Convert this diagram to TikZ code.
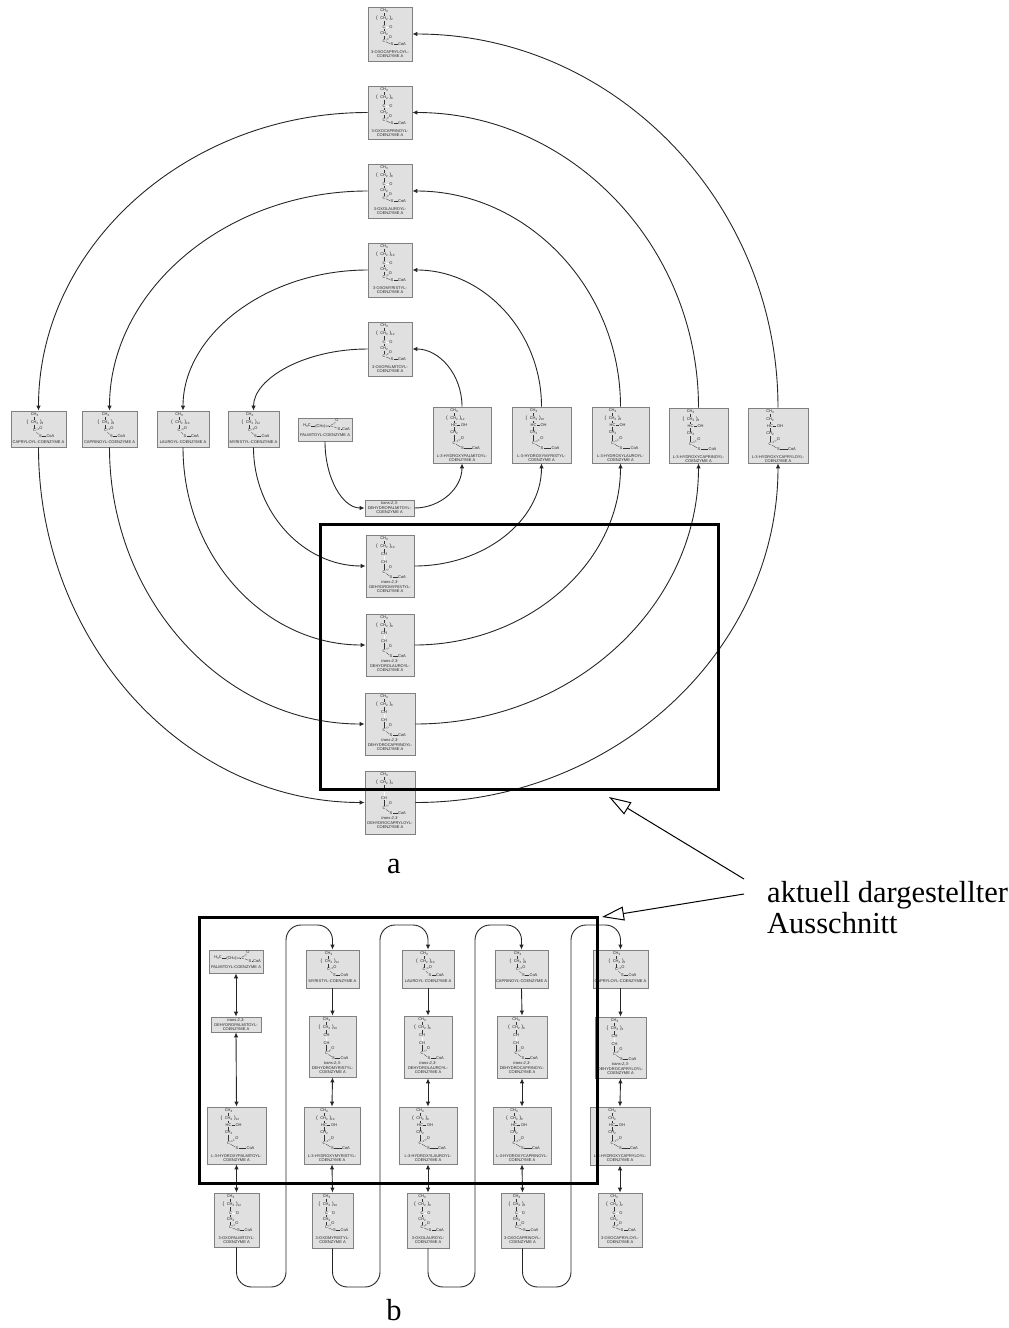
\documentclass[tikz,border=0pt]{standalone}
\usepackage{fontspec}
\setmainfont{Liberation Serif}
\newfontfamily\molfont{Liberation Sans}
\usetikzlibrary{arrows.meta}
\newcommand\sbs[1]{\raisebox{-.4ex}{\fontsize{3}{3}\selectfont #1}}
\tikzset{
  molbox/.style={draw=black!50,line width=.8pt,fill=black!12,inner sep=0pt},
  mt/.style={font=\molfont\fontsize{4}{4}\selectfont,text=black!85,inner sep=.35pt},
  lab/.style={font=\molfont\fontsize{4}{4}\selectfont,text=black!85,inner sep=0pt},
  bond/.style={line width=.3pt,draw=black!80},
  dbl/.style={line width=.2pt,draw=black!80,double,double distance=.5pt},
  link/.style={line width=.9pt,draw=black!85},
  tipto/.style={link,-{Latex[length=5pt,width=4.5pt]}},
  tipboth/.style={link,{Latex[length=5pt,width=4.5pt]}-{Latex[length=5pt,width=4.5pt]}},
  frame/.style={draw=black,line width=3pt,inner sep=0pt,fill=none},
  callout/.style={line width=1pt,draw=black,-{Triangle[open,length=22pt,width=14pt,line width=1pt]}},
  big/.style={font=\fontsize{30.5}{34}\selectfont,inner sep=0pt,text=black},
}
% box: name x1 x2 y1 y2
\newcommand\molnode[5]{%
  \pgfmathsetmacro\mx{(#2+#3)/2}\pgfmathsetmacro\my{(#4+#5)/2}%
  \pgfmathsetmacro\mw{#3-#2}\pgfmathsetmacro\mh{#5-#4}%
  \node[molbox,minimum width=\mw pt,minimum height=\mh pt] (#1) at (\mx,\my) {};}
% bracketed CH2: prefix x y subscript
\newcommand\brk[4]{%
  \node[mt] (#1-b) at (#2,#3) {CH\sbs2};
  \if\relax\detokenize{#4}\relax\else
  \node[mt,font=\molfont\fontsize{5}{5}\selectfont] (#1-p) at (#2-7,#3) {(};
  \node[mt,anchor=west] (#1-q) at (#2+5,#3) {\fontsize{5}{5}\selectfont)\sbs{#4}};
  \fi}
% end group: prefix x yC dxO dyO dxS dyS dxCoA
\newcommand\estr[8]{%
  \node[mt] (#1-c) at (#2,#3) {C};
  \node[mt] (#1-o) at (#2+#4,#3+#5) {O};
  \node[mt] (#1-s) at (#2+#6,#3+#7) {S};
  \node[mt] (#1-r) at (#2+#8,#3+#7) {CoA};
  \draw[dbl] (#1-c) -- (#1-o);
  \draw[bond] (#1-c) -- (#1-s);
  \draw[bond] (#1-s) -- (#1-r);}
% two label lines: prefix cx y1 y2 line1 line2
\newcommand\twolab[6]{%
  \node[lab] (#1-l1) at (#2,#3) {#5};
  \node[lab] (#1-l2) at (#2,#4) {#6};}
% name x1 x2 y1 y2 n text : 3-oxo
\newcommand\oxomol[7]{%
  \molnode{#1}{#2}{#3}{#4}{#5}
  \pgfmathsetmacro\cx{(#2+#3)/2}\pgfmathsetmacro\chn{\cx-6}\pgfmathsetmacro\ytop{#4}
  \node[mt] (#1-a) at (\chn,\ytop+3.5) {CH\sbs3};
  \brk{#1}{\chn}{\ytop+11.5}{#6}
  \node[mt] (#1-k) at (\chn,\ytop+20) {C};
  \node[mt] (#1-m) at (\chn+7,\ytop+20) {O};
  \node[mt] (#1-n) at (\chn,\ytop+26.5) {CH\sbs2};
  \draw[bond] (#1-a) -- (#1-b); \draw[bond] (#1-b) -- (#1-k);
  \draw[dbl] (#1-k) -- (#1-m); \draw[bond] (#1-k) -- (#1-n);
  \estr{#1}{\chn}{\ytop+34}{6.5}{-3.5}{8}{3.5}{18}
  \draw[bond] (#1-n) -- (#1-c);
  \twolab{#1}{\cx}{\ytop+45}{\ytop+49.5}{#7}{COENZYME A}}
% acyl
\newcommand\acylmol[7]{%
  \molnode{#1}{#2}{#3}{#4}{#5}
  \pgfmathsetmacro\cx{(#2+#3)/2}\pgfmathsetmacro\chn{\cx-4}\pgfmathsetmacro\ytop{#4}
  \node[mt] (#1-a) at (\chn,\ytop+3.5) {CH\sbs3};
  \brk{#1}{\chn}{\ytop+11.5}{#6}
  \estr{#1}{\chn}{\ytop+19.5}{6.5}{-2.5}{6}{5.5}{16}
  \draw[bond] (#1-a) -- (#1-b); \draw[bond] (#1-b) -- (#1-c);
  \node[lab] (#1-l1) at (\cx,\ytop+31.5) {#7};}
% trans-dehydro
\newcommand\dhmol[7]{%
  \molnode{#1}{#2}{#3}{#4}{#5}
  \pgfmathsetmacro\cx{(#2+#3)/2}\pgfmathsetmacro\chn{\cx-6}\pgfmathsetmacro\ytop{#4}
  \node[mt] (#1-a) at (\chn,\ytop+3.5) {CH\sbs3};
  \brk{#1}{\chn}{\ytop+11.5}{#6}
  \node[mt] (#1-k) at (\chn,\ytop+19.5) {CH};
  \node[mt] (#1-n) at (\chn,\ytop+27) {CH};
  \draw[bond] (#1-a) -- (#1-b); \draw[bond] (#1-b) -- (#1-k);
  \draw[dbl] (#1-k) -- (#1-n);
  \estr{#1}{\chn}{\ytop+37}{6.5}{-4.5}{7}{5}{18}
  \draw[bond] (#1-n) -- (#1-c);
  \node[lab] (#1-l0) at (\cx,\ytop+47.5) {\itshape trans-2,3-};
  \twolab{#1}{\cx}{\ytop+52}{\ytop+56.5}{#7}{COENZYME A}}
% L-3-hydroxy
\newcommand\hymol[7]{%
  \molnode{#1}{#2}{#3}{#4}{#5}
  \pgfmathsetmacro\cx{(#2+#3)/2}\pgfmathsetmacro\chn{\cx-8}\pgfmathsetmacro\ytop{#4}
  \node[mt] (#1-a) at (\chn,\ytop+3.5) {CH\sbs3};
  \brk{#1}{\chn}{\ytop+11.5}{#6}
  \node[mt] (#1-k) at (\chn,\ytop+18) {HC};
  \node[mt] (#1-m) at (\chn+10,\ytop+18) {OH};
  \node[mt] (#1-n) at (\chn,\ytop+26) {CH\sbs2};
  \draw[bond] (#1-a) -- (#1-b); \draw[bond] (#1-b) -- (#1-k);
  \draw[bond] (#1-k) -- (#1-m); \draw[bond] (#1-k) -- (#1-n);
  \estr{#1}{\chn}{\ytop+36}{8.5}{-5}{8.5}{5}{22}
  \draw[bond] (#1-n) -- (#1-c);
  \twolab{#1}{\cx}{\ytop+49}{\ytop+53.5}{#7}{COENZYME A}}
% palmitoyl
\newcommand\palmol[5]{%
  \molnode{#1}{#2}{#3}{#4}{#5}
  \pgfmathsetmacro\cx{(#2+#3)/2}\pgfmathsetmacro\ytop{#4}
  \node[mt] (#1-a) at (\cx-18,\ytop+8) {H\sbs3C};
  \node[mt] (#1-b) at (\cx-3,\ytop+8) {(CH\sbs2)\sbs{14}};
  \estr{#1}{\cx+7}{\ytop+8}{5}{-5.5}{7}{3}{14}
  \draw[bond] (#1-a) -- (#1-b); \draw[bond] (#1-b) -- (#1-c);
  \node[lab] (#1-l1) at (\cx,\ytop+17.5) {PALMITOYL-COENZYME A};}
% dehydropalmitoyl
\newcommand\dpmol[5]{%
  \molnode{#1}{#2}{#3}{#4}{#5}
  \pgfmathsetmacro\cx{(#2+#3)/2}\pgfmathsetmacro\ytop{#4}
  \node[lab] (#1-l0) at (\cx,\ytop+3.5) {\itshape trans-2,3-};
  \twolab{#1}{\cx}{\ytop+7.8}{\ytop+12}{DEHYDROPALMITOYL-}{COENZYME A}}
\begin{document}
\begin{tikzpicture}[x=1pt,y=-1pt]
\useasboundingbox (0,0) rectangle (1009,1328);
% ---- part a
\oxomol{oxCy}{368}{412}{7}{61}{2}{3-OXOCAPRYLOYL-}
\oxomol{oxCp}{368}{412}{86}{139}{6}{3-OXOCAPRINOYL-}
\oxomol{oxLa}{368}{412}{164}{218}{8}{3-OXOLAUROYL-}
\oxomol{oxMy}{368}{412}{243}{297}{10}{3-OXOMYRISTYL-}
\oxomol{oxPa}{368}{412}{322}{376}{12}{3-OXOPALMITOYL-}
\acylmol{rowCy}{11}{66}{411}{447}{6}{CAPRYLOYL-COENZYME A}
\acylmol{rowCp}{82}{137}{411}{447}{8}{CAPRINOYL-COENZYME A}
\acylmol{rowLa}{157}{209}{411}{447}{10}{LAUROYL-COENZYME A}
\acylmol{rowMy}{228}{279}{411}{447}{12}{MYRISTYL-COENZYME A}
\palmol{rowPa}{298}{352}{418}{441}
\hymol{hyPa}{433}{491}{407}{463}{12}{L-3-HYDROXYPALMITOYL-}
\hymol{hyMy}{512}{571}{407}{463}{10}{L-3-HYDROXYMYRISTYL-}
\hymol{hyLa}{592}{649}{407}{463}{8}{L-3-HYDROXYLAUROYL-}
\hymol{hyCp}{669}{728}{408}{463}{6}{L-3-HYDROXYCAPRINOYL-}
\hymol{hyCy}{748}{808}{408}{463}{}{L-3-HYDROXYCAPRYLOYL-}
\dpmol{dhPa}{365}{414}{500}{516}
\dhmol{dhMy}{366}{414}{535}{597}{10}{DEHYDROMYRISTYL-}
\dhmol{dhLa}{366}{414}{614}{676}{8}{DEHYDROLAUROYL-}
\dhmol{dhCp}{365}{415}{693}{755}{6}{DEHYDROCAPRINOYL-}
\dhmol{dhCy}{365}{415}{771}{834}{4}{DEHYDROCAPRYLOYL-}
% curves
\draw[tipto] (rowPa.south) .. controls +(0,37) and +(-22,0) .. (dhPa.west);
\draw[tipto] (dhPa.east) .. controls +(26,0) and +(0,25) .. (hyPa.south);
\draw[tipto] (hyPa.north) .. controls +(0,-32) and +(27,0) .. (oxPa.east);
\draw[tipto] (oxPa.west) .. controls +(-63,0) and +(0,-32) .. (rowMy.north);
\draw[tipto] (rowMy.south) .. controls +(0,65) and +(-62,0) .. (dhMy.west);
\draw[tipto] (dhMy.east) .. controls +(70,0) and +(0,57) .. (hyMy.south);
\draw[tipto] (hyMy.north) .. controls +(0,-75) and +(71,0) .. (oxMy.east);
\draw[tipto] (oxMy.west) .. controls +(-101,0) and +(0,-76) .. (rowLa.north);
\draw[tipto] (rowLa.south) .. controls +(0,109) and +(-101,0) .. (dhLa.west);
\draw[tipto] (dhLa.east) .. controls +(113,0) and +(0,100) .. (hyLa.south);
\draw[tipto] (hyLa.north) .. controls +(0,-119) and +(114,0) .. (oxLa.east);
\draw[tipto] (oxLa.west) .. controls +(-142,0) and +(0,-120) .. (rowCp.north);
\draw[tipto] (rowCp.south) .. controls +(0,152) and +(-141,0) .. (dhCp.west);
\draw[tipto] (dhCp.east) .. controls +(156,0) and +(0,144) .. (hyCp.south);
\draw[tipto] (hyCp.north) .. controls +(0,-163) and +(157,0) .. (oxCp.east);
\draw[tipto] (oxCp.west) .. controls +(-181,0) and +(0,-164) .. (rowCy.north);
\draw[tipto] (rowCy.south) .. controls +(0,195) and +(-180,0) .. (dhCy.west);
\draw[tipto] (dhCy.east) .. controls +(200,0) and +(0,186) .. (hyCy.south);
\draw[tipto] (hyCy.north) .. controls +(0,-206) and +(201,0) .. (oxCy.east);
% ---- part b
\palmol{bPa}{209}{263}{950}{973}
\acylmol{bMy}{306}{359}{950}{988}{12}{MYRISTYL-COENZYME A}
\acylmol{bLa}{402}{454}{950}{988}{10}{LAUROYL-COENZYME A}
\acylmol{bCp}{495}{548}{950}{988}{8}{CAPRINOYL-COENZYME A}
\acylmol{bCy}{593}{648}{950}{988}{6}{CAPRYLOYL-COENZYME A}
\dpmol{bdPa}{211}{261}{1017}{1032}
\dhmol{bdMy}{309}{356}{1016}{1077}{10}{DEHYDROMYRISTYL-}
\dhmol{bdLa}{404}{452}{1016}{1078}{8}{DEHYDROLAUROYL-}
\dhmol{bdCp}{497}{547}{1016}{1078}{6}{DEHYDROCAPRINOYL-}
\dhmol{bdCy}{595}{646}{1017}{1078}{4}{DEHYDROCAPRYLOYL-}
\hymol{bhPa}{207}{266}{1107}{1164}{12}{L-3-HYDROXYPALMITOYL-}
\hymol{bhMy}{304}{360}{1107}{1164}{10}{L-3-HYDROXYMYRISTYL-}
\hymol{bhLa}{399}{457}{1107}{1164}{8}{L-3-HYDROXYLAUROYL-}
\hymol{bhCp}{493}{551}{1107}{1164}{6}{L-3-HYDROXYCAPRINOYL-}
\hymol{bhCy}{590}{650}{1107}{1165}{}{L-3-HYDROXYCAPRYLOYL-}
\oxomol{boPa}{214}{259}{1193}{1247}{12}{3-OXOPALMITOYL-}
\oxomol{boMy}{312}{353}{1193}{1248}{10}{3-OXOMYRISTYL-}
\oxomol{boLa}{407}{449}{1193}{1248}{8}{3-OXOLAUROYL-}
\oxomol{boCp}{501}{544}{1193}{1248}{6}{3-OXOCAPRINOYL-}
\oxomol{boCy}{598}{642}{1193}{1247}{2}{3-OXOCAPRYLOYL-}
\draw[tipboth] (bPa.south) -- (bdPa.north);
\draw[tipboth] (bdPa.south) -- (bhPa.north);
\draw[tipboth] (bhPa.south) -- (boPa.north);
\draw[tipto] (bMy.south) -- (bdMy.north);
\draw[tipboth] (bdMy.south) -- (bhMy.north);
\draw[tipboth] (bhMy.south) -- (boMy.north);
\draw[tipto] (bLa.south) -- (bdLa.north);
\draw[tipboth] (bdLa.south) -- (bhLa.north);
\draw[tipboth] (bhLa.south) -- (boLa.north);
\draw[tipto] (bCp.south) -- (bdCp.north);
\draw[tipboth] (bdCp.south) -- (bhCp.north);
\draw[tipboth] (bhCp.south) -- (boCp.north);
\draw[tipto] (bCy.south) -- (bdCy.north);
\draw[tipboth] (bdCy.south) -- (bhCy.north);
\draw[tipboth] (bhCy.south) -- (boCy.north);
\coordinate (lowA) at (286,1287); \coordinate (upA) at (286,925);
\coordinate (lowB) at (380,1287); \coordinate (upB) at (380,925);
\coordinate (lowC) at (475,1287); \coordinate (upC) at (475,925);
\coordinate (lowD) at (571,1287); \coordinate (upD) at (571,925);
\draw[tipto,rounded corners=15pt] (boPa.south) |- (lowA) -- (upA) -| (bMy.north);
\draw[tipto,rounded corners=15pt] (boMy.south) |- (lowB) -- (upB) -| (bLa.north);
\draw[tipto,rounded corners=15pt] (boLa.south) |- (lowC) -- (upC) -| (bCp.north);
\draw[tipto,rounded corners=15pt] (boCp.south) |- (lowD) -- (upD) -| (bCy.north);
% frames
\node[frame,minimum width=398pt,minimum height=265pt] (frameA) at (519,656.5) {};
\node[frame,minimum width=398pt,minimum height=266pt] (frameB) at (398,1050) {};
% labels
\node[big,anchor=base] (capA) at (394,873) {a};
\node[big,anchor=base] (capB) at (394,1320) {b};
\node[big,anchor=base west] (noteA) at (767,902) {aktuell dargestellter};
\node[big,anchor=base west] (noteB) at (767,933) {Ausschnitt};
\coordinate (fromA) at (744,879); \coordinate (toA) at (609,797);
\coordinate (fromB) at (744,894); \coordinate (toB) at (602,917);
\draw[callout] (fromA) -- (toA);
\draw[callout] (fromB) -- (toB);
\end{tikzpicture}
\end{document}
